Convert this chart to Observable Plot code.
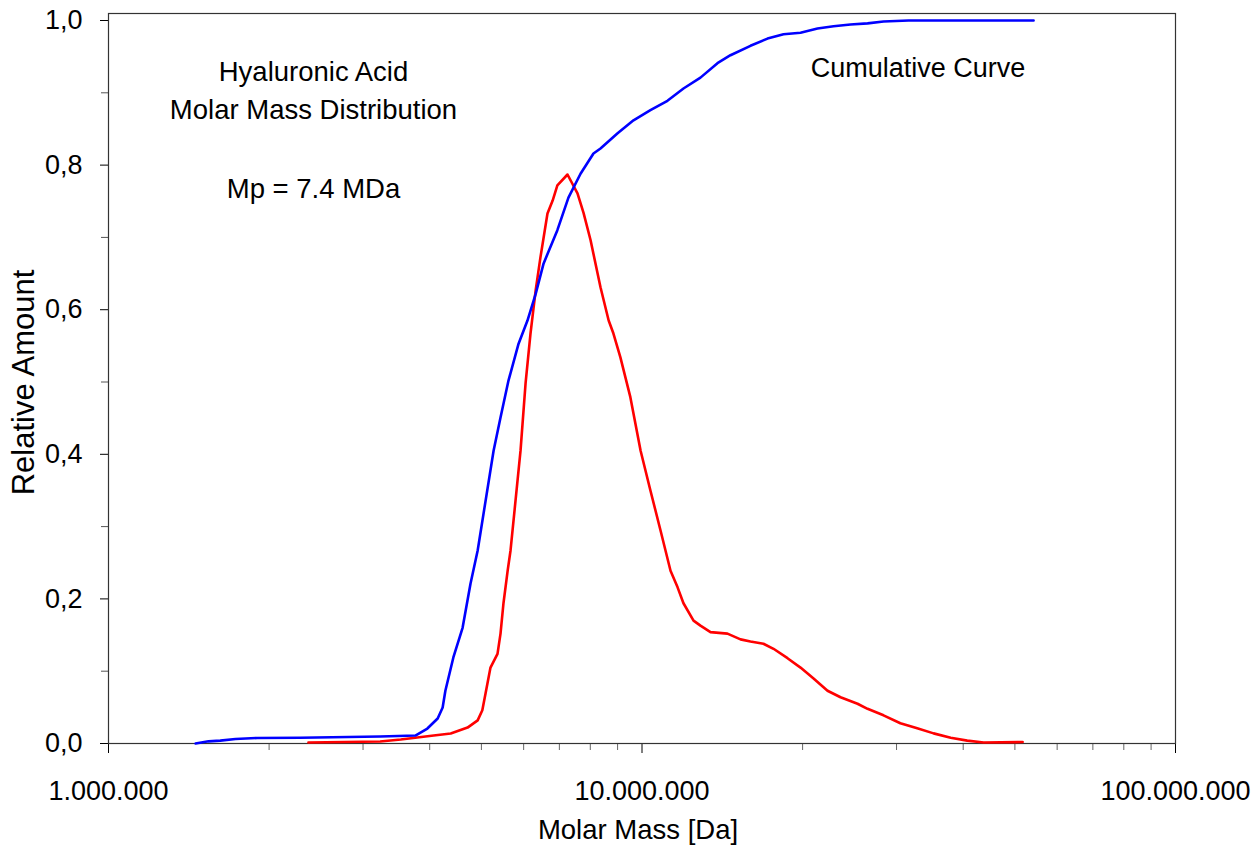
<!DOCTYPE html>
<html>
<head>
<meta charset="utf-8">
<script src="https://cdn.jsdelivr.net/npm/d3@7"></script>
<script src="https://cdn.jsdelivr.net/npm/@observablehq/plot@0.6"></script>
<style>
  html, body { margin: 0; padding: 0; background: white; }
</style>
</head>
<body>
<div id="chart"></div>
<script>
// Cumulative curve (blue)
const cumMass = [1.456e6, 1.54e6, 1.62e6, 1.73e6, 1.90e6, 2.29e6, 3.23e6, 3.76e6, 3.96e6, 4.14e6,
  4.23e6, 4.28e6, 4.43e6, 4.61e6, 4.77e6, 4.92e6, 5.27e6, 5.43e6, 5.62e6, 5.87e6,
  6.10e6, 6.32e6, 6.54e6, 6.94e6, 7.28e6, 7.67e6, 8.11e6, 8.36e6, 9.00e6, 9.64e6,
  1.037e7, 1.116e7, 1.196e7, 1.287e7, 1.385e7, 1.465e7, 1.597e7, 1.719e7, 1.842e7, 1.982e7,
  2.133e7, 2.286e7, 2.459e7, 2.647e7, 2.836e7, 3.16e7, 5.42e7];
const cumAmount = [0, 0.003, 0.004, 0.0062, 0.0076, 0.008, 0.0097, 0.011, 0.0207, 0.0346,
  0.0498, 0.073, 0.119, 0.160, 0.221, 0.267, 0.405, 0.451, 0.502, 0.553,
  0.585, 0.622, 0.664, 0.710, 0.755, 0.788, 0.816, 0.823, 0.844, 0.862,
  0.876, 0.889, 0.906, 0.921, 0.941, 0.952, 0.965, 0.975, 0.981, 0.983,
  0.989, 0.992, 0.9945, 0.996, 0.9986, 1.0, 1.0];

// Molar mass distribution (red)
const distMass = [2.37e6, 3.23e6, 3.53e6, 4.07e6, 4.38e6, 4.71e6, 4.92e6, 5.02e6, 5.09e6, 5.20e6,
  5.36e6, 5.43e6, 5.50e6, 5.60e6, 5.67e6, 5.92e6, 6.05e6, 6.18e6, 6.32e6, 6.45e6,
  6.65e6, 6.80e6, 6.94e6, 7.25e6, 7.57e6, 7.77e6, 8.01e6, 8.36e6, 8.66e6, 8.84e6,
  9.11e6, 9.51e6, 9.94e6, 1.037e7, 1.083e7, 1.131e7, 1.166e7, 1.196e7, 1.249e7, 1.287e7,
  1.344e7, 1.446e7, 1.530e7, 1.597e7, 1.689e7, 1.764e7, 1.874e7, 1.982e7, 2.097e7, 2.227e7,
  2.356e7, 2.535e7, 2.647e7, 2.836e7, 3.05e7, 3.28e7, 3.52e7, 3.79e7, 4.07e7, 4.37e7, 5.17e7];
const distAmount = [0.0014, 0.0028, 0.0055, 0.011, 0.0138, 0.022, 0.032, 0.046, 0.069, 0.105,
  0.124, 0.152, 0.194, 0.239, 0.267, 0.405, 0.498, 0.567, 0.627, 0.672,
  0.733, 0.751, 0.772, 0.787, 0.761, 0.734, 0.696, 0.631, 0.585, 0.567,
  0.534, 0.479, 0.405, 0.350, 0.295, 0.239, 0.216, 0.194, 0.170, 0.163,
  0.154, 0.152, 0.144, 0.141, 0.138, 0.131, 0.118, 0.105, 0.090, 0.073,
  0.064, 0.055, 0.048, 0.039, 0.028, 0.021, 0.014, 0.008, 0.004, 0.0014, 0.002];

// Ticks and labels
const xMajor = [1e6, 1e7, 1e8];
const xMajorLabels = ["1.000.000", "10.000.000", "100.000.000"];
const xMinor = [2e6, 3e6, 4e6, 5e6, 6e6, 7e6, 8e6, 9e6, 2e7, 3e7, 4e7, 5e7, 6e7, 7e7, 8e7, 9e7];
const yMajor = [0, 0.2, 0.4, 0.6, 0.8, 1.0];
const yMajorLabels = ["0,0", "0,2", "0,4", "0,6", "0,8", "1,0"];
const yMinor = [0.1, 0.3, 0.5, 0.7, 0.9];

const titleLines = ["Hyaluronic Acid", "Molar Mass Distribution"];
const peakLabel = "Mp = 7.4 MDa";
const cumLabel = "Cumulative Curve";
const xLabel = "Molar Mass [Da]";
const yLabel = "Relative Amount";

const cumData = cumMass.map((m, i) => ({mass: m, amount: cumAmount[i]}));
const distData = distMass.map((m, i) => ({mass: m, amount: distAmount[i]}));

const FONT = "'Liberation Sans', Arial, Helvetica, sans-serif";

const chart = Plot.plot({
  width: 1256,
  height: 849,
  marginLeft: 108,
  marginRight: 81,
  marginTop: 13,
  marginBottom: 106,
  style: {fontFamily: FONT, fontSize: "27px", color: "black", background: "white", overflow: "visible"},
  x: {type: "log", domain: [1e6, 1e8]},
  y: {domain: [0, 1.0097]},
  marks: [
    Plot.axisX({ticks: xMinor, tickSize: 7, tickFormat: () => "", stroke: "#666", label: null}),
    Plot.axisX({ticks: xMajor, tickSize: 10, tickPadding: 27, stroke: "black",
      tickFormat: d => xMajorLabels[xMajor.indexOf(d)], label: null}),
    Plot.axisY({ticks: yMinor, tickSize: 7, tickFormat: () => "", stroke: "#555", label: null}),
    Plot.axisY({ticks: yMajor, tickSize: 8, tickPadding: 18, stroke: "black",
      tickFormat: d => yMajorLabels[yMajor.findIndex(v => Math.abs(v - d) < 1e-9)], label: null}),
    Plot.frame({stroke: "#333", strokeWidth: 1.2}),
    Plot.line(distData, {x: "mass", y: "amount", stroke: "#ff0000", strokeWidth: 2.6}),
    Plot.line(cumData, {x: "mass", y: "amount", stroke: "#0000ff", strokeWidth: 2.6}),
    Plot.text([titleLines[0]], {text: d => d, frameAnchor: "top-left", dx: 205, dy: 59, textAnchor: "middle", lineAnchor: "middle", fontSize: 27.5, fill: "black"}),
    Plot.text([titleLines[1]], {text: d => d, frameAnchor: "top-left", dx: 205, dy: 97, textAnchor: "middle", lineAnchor: "middle", fontSize: 27.5, fill: "black"}),
    Plot.text([peakLabel], {text: d => d, frameAnchor: "top-left", dx: 205, dy: 176, textAnchor: "middle", lineAnchor: "middle", fontSize: 27.5, fill: "black"}),
    Plot.text([cumLabel], {text: d => d, frameAnchor: "top-left", dx: 809.5, dy: 55, textAnchor: "middle", lineAnchor: "middle", fontSize: 27, fill: "black"}),
    Plot.text([xLabel], {text: d => d, frameAnchor: "bottom", dx: -4, dy: 87, textAnchor: "middle", lineAnchor: "middle", fontSize: 27.5, fill: "black"}),
    Plot.text([yLabel], {text: d => d, frameAnchor: "left", dx: -84, dy: 4, rotate: -90, textAnchor: "middle", lineAnchor: "middle", fontSize: 31, fill: "black"})
  ]
});
document.getElementById("chart").appendChild(chart);
</script>
</body>
</html>
